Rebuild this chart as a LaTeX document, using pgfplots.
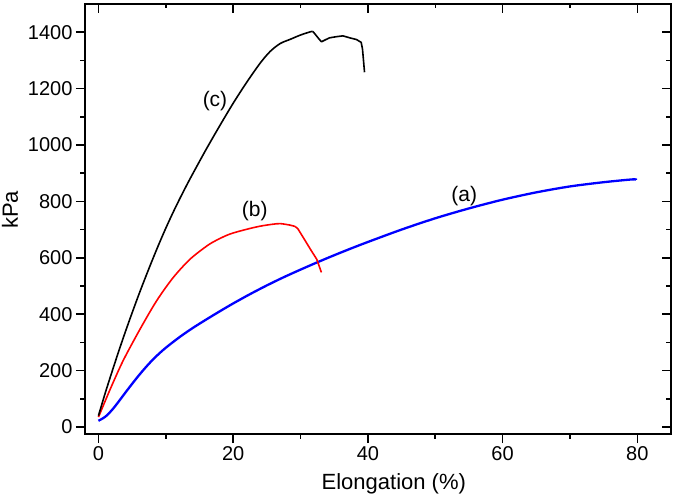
\documentclass[border=0pt]{standalone}
\usepackage{fontspec}
\setmainfont{Liberation Sans}
\usepackage{pgfplots}
\pgfplotsset{compat=1.18}
\begin{document}
\begin{tikzpicture}
\pgfplotsset{
  common/.style={
    scale only axis, width=586pt, height=430pt, at={(0pt,0pt)}, anchor=south west,
    xmin=-2, xmax=85, ymin=-25, ymax=1500,
    xtick={0,20,40,60,80}, minor xtick={10,30,50,70},
    ytick={0,200,400,600,800,1000,1200,1400}, minor ytick={100,300,500,700,900,1100,1300},
    major tick length=9pt, minor tick length=4.5pt,
    every tick/.style={black, line width=1.5pt},
    axis line style={line width=2pt},
    /pgf/number format/assume math mode=true,
    /pgf/number format/1000 sep={},
    tick label style={font=\fontsize{20}{20}\selectfont},
  }
}
\begin{axis}[common,
    tick align=outside, xtick pos=left, ytick pos=left,
    xlabel={Elongation (\%)}, ylabel={kPa},
    label style={font=\fontsize{22}{22}\selectfont},
    xlabel style={at={(axis description cs:0.527,-0.116)}, anchor=center},
    ylabel style={at={(axis description cs:-0.128,0.521)}, anchor=center},
  ]
% (a) blue
\addplot[blue, line width=2.3pt, smooth, tension=0.5] coordinates {
(0,22) (1,36) (2,60) (3,90) (4,122) (5,153) (6,183) (7,211) (8,237) (9,260)
(10,281) (12,318) (14,351) (16,381) (18,410) (20,438) (22.5,471) (25,502)
(27.5,531) (30,558) (32.5,584) (35,609) (37.5,633) (40,656) (45,700) (50,740)
(55,775) (60,806) (65,832) (70,853) (75,868) (79.3,878) (79.8,876)
};
% (b) red
\addplot[red, line width=1.6pt, smooth, tension=0.5] coordinates {
(0,35) (1,92) (2,148) (3.7,237) (6.2,348) (8.65,448) (11.1,530) (13.6,595)
(16.1,642) (17.5,662) (19.5,684) (22,701) (24,712) (25.9,719) (27,721)
(28.4,716) (29.2,711)
};
\addplot[red, line width=1.6pt, line join=round] coordinates {
(29.2,711) (29.6,703) (30.4,672) (31.6,625) (32.4,595) (33.1,548)
};
% (c) black
\addplot[black, line width=1.6pt, smooth, tension=0.5] coordinates {
(0,40) (1,120) (2,195) (3,268) (4,338) (5,405) (6,470) (7,532) (8,592) (9,650)
(10,705) (11,757) (12,806) (13,853) (14,898) (16,985) (18,1068) (20,1148)
(22,1222) (24,1290) (25.5,1332) (27,1360) (28.5,1375)
(30,1390) (31.4,1401) (31.8,1403)
};
\addplot[black, line width=1.6pt, line join=round] coordinates {
(31.8,1403) (32.1,1395) (32.6,1380) (33.1,1366) (33.6,1372)
(34.3,1380) (35.3,1384) (36.3,1387) (37.3,1380) (38.3,1374) (39.0,1364) (39.2,1340)
(39.5,1258)
};
\node[font=\fontsize{21}{21}\selectfont] at (axis cs:17.3,1154) {(c)};
\node[font=\fontsize{21}{21}\selectfont] at (axis cs:23.2,766) {(b)};
\node[font=\fontsize{21}{21}\selectfont] at (axis cs:54.3,819) {(a)};
\end{axis}
\begin{axis}[common,
    tick align=inside, xtick pos=right, ytick pos=right,
    xticklabels={}, yticklabels={},
  ]
\end{axis}
\pgfresetboundingbox
\path (-85pt,-64pt) rectangle (590pt,434pt);
\end{tikzpicture}
\end{document}
